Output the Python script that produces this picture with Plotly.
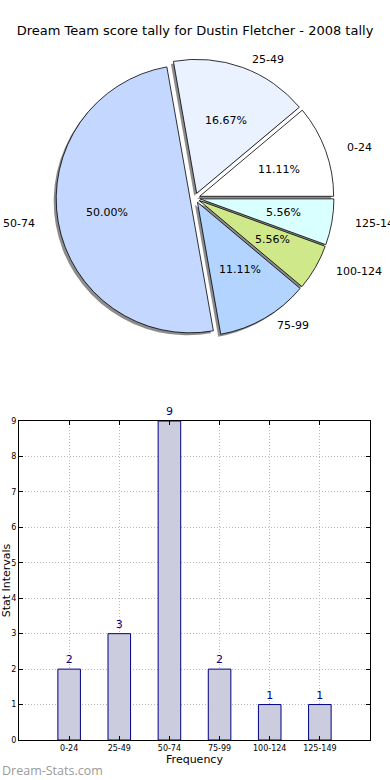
import math
import plotly.graph_objects as go

categories = ["0-24", "25-49", "50-74", "75-99", "100-124", "125-149"]
counts = [2, 3, 9, 2, 1, 1]
pie_colors = ["#ffffff", "#eaf1ff", "#c4d8ff", "#b3d4ff", "#cfe98a", "#d9ffff"]
y_ticks = list(range(0, 10))

W, H = 390, 780
FONT = "DejaVu Sans"

# pie geometry (pixels)
cx, cy = 195.0, 198.0
r_pie = 134.0
pull = 0.037
half = r_pie * (1 + pull)
shadow_dx, shadow_dy = -2.5, 2.5

total = sum(counts)
# plotly (counterclockwise) places the first slice clockwise of `rotation`;
# shift so the first slice starts at 3 o'clock and runs counterclockwise
rotation = 90 - 360 * counts[0] / total


def px(x):
    return x / W


def py(y):
    return 1 - y / H


fig = go.Figure()

# shadow pie
fig.add_trace(go.Pie(
    values=counts, labels=categories, sort=False, direction="counterclockwise",
    rotation=rotation, pull=pull, textinfo="none", hoverinfo="skip", showlegend=False,
    marker=dict(colors=["rgba(0,0,0,0.45)"] * len(counts), line=dict(width=0)),
    domain=dict(x=[px(cx - half + shadow_dx), px(cx + half + shadow_dx)],
                y=[py(cy + half + shadow_dy), py(cy - half + shadow_dy)]),
))

fig.add_trace(go.Pie(
    values=counts, labels=categories, sort=False, direction="counterclockwise",
    rotation=rotation, pull=pull, textinfo="none", showlegend=False,
    marker=dict(colors=pie_colors, line=dict(color="#000000", width=0.8)),
    domain=dict(x=[px(cx - half), px(cx + half)], y=[py(cy + half), py(cy - half)]),
))

# labels and percents like matplotlib (elliptical axes)
rx, ry, d = 141.0, 129.0, 5.0
annotations = []
start = 0.0
for cat, v in zip(categories, counts):
    frac = v / total
    mid = math.radians((start + frac / 2) * 360)
    start += frac
    c, s = math.cos(mid), math.sin(mid)
    lx = cx + (1.1 * rx + d) * c
    ly = cy - (1.1 * ry + d) * s
    annotations.append(dict(x=px(lx), y=py(ly), xref="paper", yref="paper",
                            text=cat, showarrow=False,
                            xanchor="left" if c > 0 else "right", yanchor="middle",
                            font=dict(family=FONT, size=11, color="#000")))
    tx = cx + (0.6 * rx + d) * c
    ty = cy - (0.6 * ry + d) * s
    annotations.append(dict(x=px(tx), y=py(ty), xref="paper", yref="paper",
                            text=f"{frac * 100:.2f}%", showarrow=False,
                            xanchor="center", yanchor="middle",
                            font=dict(family=FONT, size=11, color="#000")))

# bar chart
fig.add_trace(go.Bar(
    x=list(range(1, len(categories) + 1)), y=counts, width=0.45,
    marker=dict(color="#ccccdf", line=dict(color="#000080", width=1)),
    text=[str(v) for v in counts], textposition="outside", cliponaxis=False,
    textfont=dict(family=FONT, size=11, color="#00008b"),
    showlegend=False, xaxis="x", yaxis="y",
))

annotations.append(dict(x=0.0, y=py(770), xref="paper", yref="paper",
                        text="Dream-Stats.com", showarrow=False,
                        xanchor="left", yanchor="middle",
                        font=dict(family="Open Sans", size=12.5, color="#9a9a9a")))

GRID = "#b8b8b8"
fig.update_layout(
    width=W, height=H, margin=dict(l=0, r=0, t=0, b=0, autoexpand=False),
    paper_bgcolor="white", plot_bgcolor="white",
    title=dict(text="Dream Team score tally for Dustin Fletcher - 2008 tally",
               x=0.5, xanchor="center", y=py(30), yanchor="middle",
               font=dict(family=FONT, size=13, color="#000")),
    xaxis=dict(domain=[px(19), px(370)], range=[0, 7], automargin=False,
               tickmode="array", tickvals=list(range(1, len(categories) + 1)),
               ticktext=categories, ticks="inside", ticklen=4, tickcolor="#000",
               showline=True, linecolor="#000", linewidth=1, mirror="ticks",
               showgrid=True, gridcolor=GRID, griddash="1px,2px", gridwidth=1,
               zeroline=False, tickfont=dict(family=FONT, size=8, color="#000"),
               title=dict(text="Frequency", standoff=2,
                          font=dict(family=FONT, size=11, color="#000")),
               anchor="y"),
    yaxis=dict(domain=[py(740), py(421)], range=[0, 9], automargin=False,
               tickmode="array", tickvals=y_ticks, ticks="inside", ticklen=4,
               tickcolor="#000", showline=True, linecolor="#000", linewidth=1,
               mirror="ticks", showgrid=True, gridcolor=GRID, griddash="1px,2px",
               gridwidth=1, zeroline=False,
               tickfont=dict(family=FONT, size=8, color="#000"),
               title=dict(text="Stat Intervals", standoff=0,
                          font=dict(family=FONT, size=11, color="#000")),
               anchor="x"),
    annotations=annotations,
)

fig.write_html(
    "out.html",
    config={"displayModeBar": False},
    post_script="document.body.style.margin='0';document.body.style.padding='0';",
)
